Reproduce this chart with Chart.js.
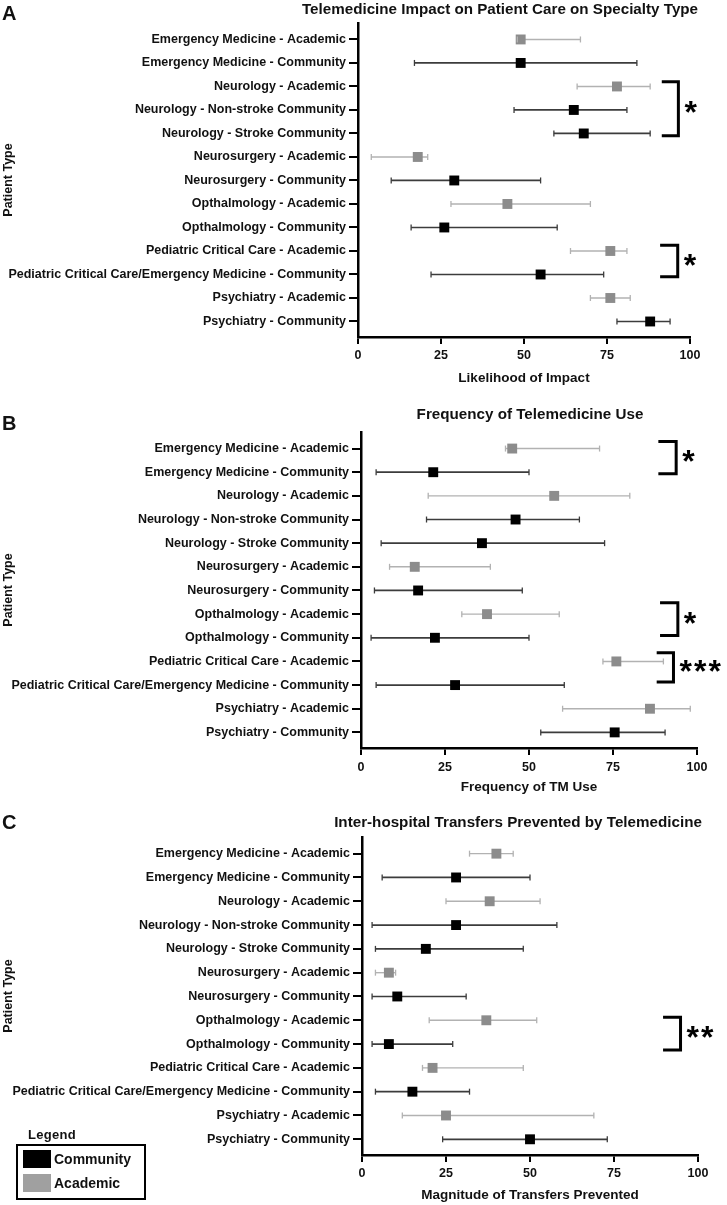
<!DOCTYPE html>
<html>
<head>
<meta charset="utf-8">
<title>Telemedicine by specialty type</title>
<script src="https://cdn.jsdelivr.net/npm/chart.js@4.4.0/dist/chart.umd.min.js"></script>
<style>
  body { margin: 0; background: #fff; font-family: "Liberation Sans", Arial, Helvetica, sans-serif; color: #111; }
  #page { position: relative; width: 727px; height: 1205px; overflow: hidden; }
  canvas { position: absolute; left: 0; }
  .letter { position: absolute; left: 2px; font-size: 20px; font-weight: bold; line-height: 20px; }
  #legend-title { position: absolute; left: 28px; top: 1127px; font-size: 13px; font-weight: bold; letter-spacing: 0.3px; }
  #legend { position: absolute; left: 16px; top: 1144px; width: 126px; height: 52px; border: 2.5px solid #000; }
  .key { position: absolute; left: 5px; height: 18px; font-size: 14px; font-weight: bold; line-height: 18px; }
  .key span { display: inline-block; width: 28px; height: 18px; vertical-align: top; margin-right: 3px; }
</style>
</head>
<body>
<div id="page">
  <canvas id="chartA" width="727" height="400" style="top:0px"></canvas>
  <canvas id="chartB" width="727" height="410" style="top:400px"></canvas>
  <canvas id="chartC" width="727" height="395" style="top:810px"></canvas>
  <div class="letter" style="top:3px">A</div>
  <div class="letter" style="top:413px">B</div>
  <div class="letter" style="top:812px">C</div>
  <div id="legend-title">Legend</div>
  <div id="legend"></div>
</div>
<script>
// rows shared by all three panels
const categories = [
  "Emergency Medicine - Academic",
  "Emergency Medicine - Community",
  "Neurology - Academic",
  "Neurology - Non-stroke Community",
  "Neurology - Stroke Community",
  "Neurosurgery - Academic",
  "Neurosurgery - Community",
  "Opthalmology - Academic",
  "Opthalmology - Community",
  "Pediatric Critical Care - Academic",
  "Pediatric Critical Care/Emergency Medicine - Community",
  "Psychiatry - Academic",
  "Psychiatry - Community"
];

// A: likelihood of impact (mean, lower and upper whisker)
const impactMean = [49, 49, 78, 65, 68, 18, 29, 45, 26, 76, 55, 76, 88];
const impactLow  = [48, 17, 66, 47, 59, 4, 10, 28, 16, 64, 22, 70, 78];
const impactHigh = [67, 84, 88, 81, 88, 21, 55, 70, 60, 81, 74, 82, 94];

// B: frequency of TM use
const useMean = [45, 21.5, 57.5, 46, 36, 16, 17, 37.5, 22, 76, 28, 86, 75.5];
const useLow  = [43, 4.5, 20, 19.5, 6, 8.5, 4, 30, 3, 72, 4.5, 60, 53.5];
const useHigh = [71, 50, 80, 65, 72.5, 38.5, 48, 59, 50, 90, 60.5, 98, 90.5];

// C: magnitude of transfers prevented
const transferMean = [40, 28, 38, 28, 19, 8, 10.5, 37, 8, 21, 15, 25, 50];
const transferLow  = [32, 6, 25, 3, 4, 4, 3, 20, 3, 18, 4, 12, 24];
const transferHigh = [45, 50, 53, 58, 48, 10, 31, 52, 27, 48, 32, 69, 73];

const xTicks = [0, 25, 50, 75, 100];
const groupNames = ["Community", "Academic"];

// significance brackets: rows spanned, x range in axis units, stars
const impactBrackets = [
  {y0: 1.8, y1: 4.1, x0: 91.5, x1: 96.5, label: "*"},
  {y0: 8.76, y1: 10.1, x0: 91, x1: 96.3, label: "*"}
];
const useBrackets = [
  {y0: -0.3, y1: 1.07, x0: 88.5, x1: 93.8, label: "*"},
  {y0: 6.52, y1: 7.9, x0: 89, x1: 94.3, label: "*"},
  {y0: 8.63, y1: 9.87, x0: 88, x1: 93, label: "***"}
];
const transferBrackets = [
  {y0: 6.87, y1: 8.25, x0: 89.6, x1: 94.8, label: "**"}
];

const FONT = '"Liberation Sans", Arial, Helvetica, sans-serif';
const groupStyle = {
  Community: {mark: "#000000", whisker: "#3c3c3c", width: 1.7},
  Academic: {mark: "#8c8c8c", whisker: "#b2b2b2", width: 1.4}
};

function buildDatasets(mean, low, high) {
  const datasets = [];
  groupNames.forEach(name => {
    const rows = categories.map((c, i) => i).filter(i => categories[i].endsWith(name));
    const st = groupStyle[name];
    datasets.push({
      type: "bar",
      label: name + " range",
      data: rows.map(i => ({x: [low[i], high[i]], y: i})),
      backgroundColor: st.whisker,
      maxBarThickness: st.width,
      grouped: false,
      order: 2
    });
    datasets.push({
      type: "line",
      label: name,
      data: rows.map(i => ({x: mean[i], y: i})),
      showLine: false,
      pointStyle: "rect",
      pointRadius: 7,
      pointHoverRadius: 7,
      pointBorderWidth: 0,
      pointBackgroundColor: st.mark,
      order: 1
    });
  });
  return datasets;
}

// small end caps on every whisker
const errorCaps = {
  id: "errorCaps",
  afterDatasetsDraw(chart) {
    const {ctx, scales: {x, y}} = chart;
    chart.data.datasets.forEach(ds => {
      if (ds.type !== "bar") return;
      ctx.save();
      ctx.strokeStyle = ds.backgroundColor;
      ctx.lineWidth = 1.3;
      ds.data.forEach(d => {
        const py = y.getPixelForValue(d.y);
        d.x.forEach(v => {
          const px = x.getPixelForValue(v);
          ctx.beginPath();
          ctx.moveTo(px, py - 3);
          ctx.lineTo(px, py + 3);
          ctx.stroke();
        });
      });
      ctx.restore();
    });
  }
};

const sigBrackets = {
  id: "sigBrackets",
  afterDraw(chart, args, opts) {
    const {ctx, scales: {x, y}} = chart;
    (opts.items || []).forEach(b => {
      const x0 = x.getPixelForValue(b.x0), x1 = x.getPixelForValue(b.x1);
      const y0 = y.getPixelForValue(b.y0), y1 = y.getPixelForValue(b.y1);
      ctx.save();
      ctx.strokeStyle = "#000";
      ctx.lineWidth = 3;
      ctx.lineJoin = "miter";
      ctx.beginPath();
      ctx.moveTo(x0, y0);
      ctx.lineTo(x1, y0);
      ctx.lineTo(x1, y1);
      ctx.lineTo(x0, y1);
      ctx.stroke();
      ctx.fillStyle = "#000";
      ctx.font = "bold 32px " + FONT;
      ctx.letterSpacing = "2px";
      ctx.textAlign = "left";
      ctx.textBaseline = "alphabetic";
      ctx.fillText(b.label, x1 + 6, (y0 + y1) / 2 + 14.5);
      ctx.restore();
    });
  }
};

// panel heading, centred where the original figure put it
const panelTitle = {
  id: "panelTitle",
  afterDraw(chart, args, opts) {
    const {ctx} = chart;
    ctx.save();
    ctx.fillStyle = "#111";
    ctx.font = "bold " + opts.size + "px " + FONT;
    ctx.textAlign = "center";
    ctx.textBaseline = "middle";
    ctx.fillText(opts.text, opts.x, opts.y);
    ctx.restore();
  }
};

const panels = [
  {id: "chartA", title: "Telemedicine Impact on Patient Care on Specialty Type", xTitle: "Likelihood of Impact",
   mean: impactMean, low: impactLow, high: impactHigh, brackets: impactBrackets,
   height: 400, area: {top: 23, bottom: 337, left: 358, right: 690}, titleX: 500, titleY: 10, xTickY: 355, xTitleY: 378},
  {id: "chartB", title: "Frequency of Telemedicine Use", xTitle: "Frequency of TM Use",
   mean: useMean, low: useLow, high: useHigh, brackets: useBrackets,
   height: 410, area: {top: 32, bottom: 348, left: 361, right: 697}, titleX: 530, titleY: 15, xTickY: 367, xTitleY: 387},
  {id: "chartC", title: "Inter-hospital Transfers Prevented by Telemedicine", xTitle: "Magnitude of Transfers Prevented",
   mean: transferMean, low: transferLow, high: transferHigh, brackets: transferBrackets,
   height: 395, area: {top: 27, bottom: 345, left: 362, right: 698}, titleX: 518, titleY: 12.5, xTickY: 363, xTitleY: 385}
];

const TITLE_SIZE = 15.2, AXIS_TITLE_SIZE = 13.5, Y_TITLE_SIZE = 12.5, TICK_SIZE = 12.5, CAT_SIZE = 12.5;

panels.forEach(p => {
  const axisHalf = AXIS_TITLE_SIZE * 1.2 / 2;
  new Chart(document.getElementById(p.id), {
    type: "bar",
    data: {datasets: buildDatasets(p.mean, p.low, p.high)},
    options: {
      indexAxis: "y",
      responsive: false,
      animation: false,
      events: [],
      layout: {padding: {top: p.area.top, left: 0, bottom: 0, right: 727 - p.area.right}},
      scales: {
        x: {
          type: "linear",
          min: 0,
          max: 100,
          afterBuildTicks: s => { s.ticks = xTicks.map(v => ({value: v})); },
          afterFit: s => { s.height = p.height - p.area.bottom; },
          ticks: {
            color: "#111",
            padding: p.xTickY - p.area.bottom - 7 - 7,
            font: {family: FONT, size: TICK_SIZE, weight: "bold"}
          },
          grid: {drawOnChartArea: false, drawTicks: true, tickLength: 7, color: "#000", lineWidth: 2},
          border: {display: true, color: "#000", width: 2.5},
          title: {
            display: true,
            text: p.xTitle,
            color: "#111",
            font: {family: FONT, size: AXIS_TITLE_SIZE, weight: "bold"},
            padding: {top: 0, bottom: p.height - p.xTitleY - axisHalf}
          }
        },
        y: {
          type: "linear",
          reverse: true,
          offset: false,
          min: -0.7,
          max: 12.66,
          afterFit: s => { s.width = p.area.left; },
          ticks: {
            stepSize: 1,
            maxTicksLimit: 20,
            includeBounds: false,
            autoSkip: false,
            padding: 3,
            color: "#111",
            font: {family: FONT, size: CAT_SIZE, weight: "bold"},
            callback: v => categories[v] ?? ""
          },
          grid: {offset: false, drawOnChartArea: false, drawTicks: true, tickLength: 9, color: "#000", lineWidth: 2},
          border: {display: true, color: "#000", width: 2.5},
          title: {
            display: true,
            text: "Patient Type",
            color: "#111",
            font: {family: FONT, size: Y_TITLE_SIZE, weight: "bold"},
            padding: {top: 1, bottom: 0}
          }
        }
      },
      plugins: {
        legend: {display: false},
        tooltip: {enabled: false},
        title: {display: false},
        panelTitle: {text: p.title, x: p.titleX, y: p.titleY, size: TITLE_SIZE},
        sigBrackets: {items: p.brackets}
      }
    },
    plugins: [errorCaps, sigBrackets, panelTitle]
  });
});

// shared legend below panel C
const legendEl = document.getElementById("legend");
groupNames.forEach((name, i) => {
  const row = document.createElement("div");
  row.className = "key";
  row.style.top = (4 + i * 24) + "px";
  const sw = document.createElement("span");
  sw.style.background = i === 0 ? "#000" : "#a0a0a0";
  row.appendChild(sw);
  row.appendChild(document.createTextNode(name));
  legendEl.appendChild(row);
});
</script>
</body>
</html>
